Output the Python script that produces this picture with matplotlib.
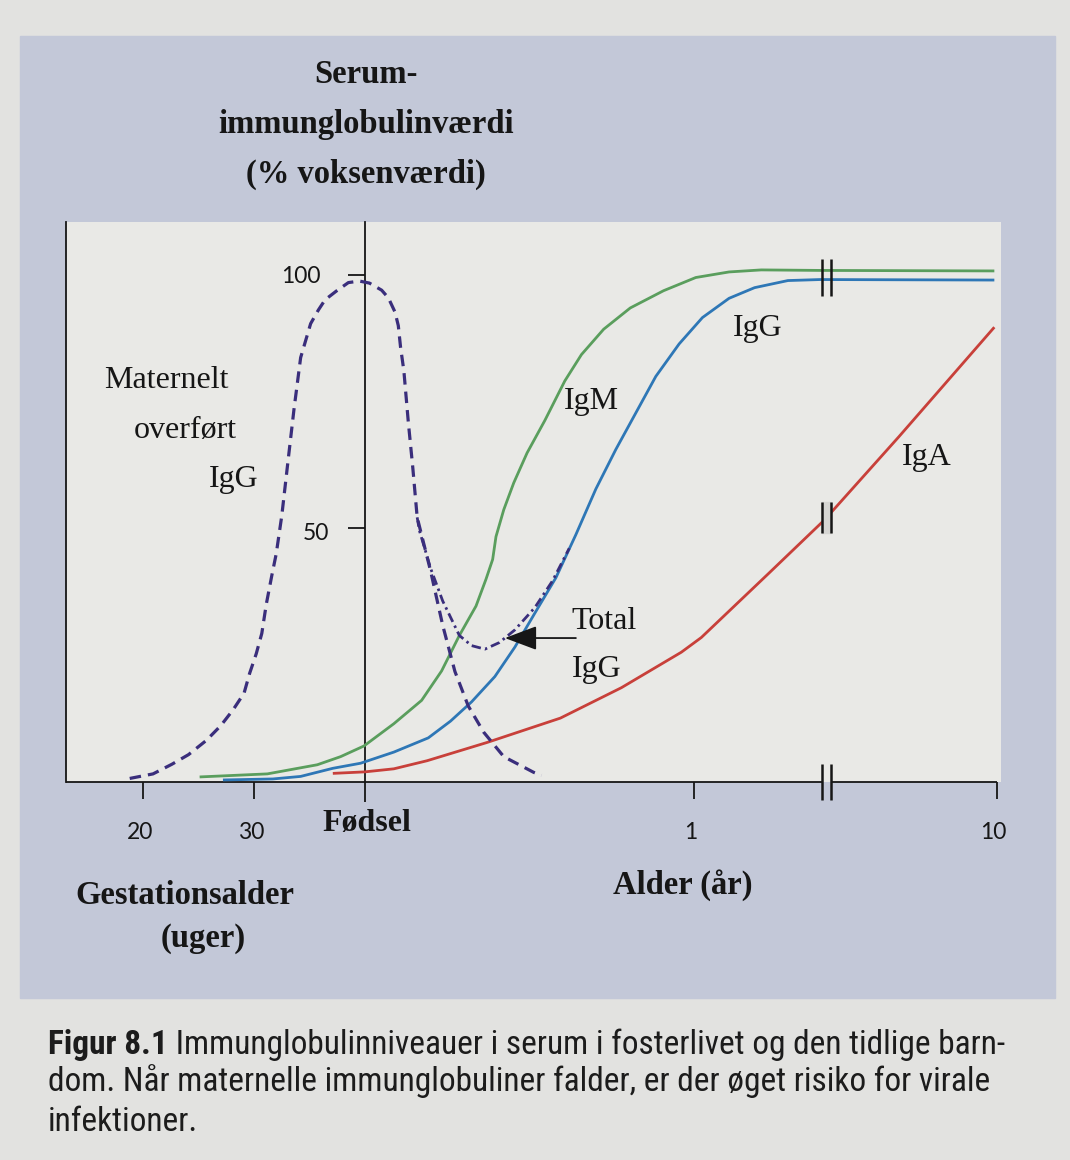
import numpy as np
import matplotlib
matplotlib.use("Agg")
import matplotlib.pyplot as plt
from matplotlib.patches import Rectangle
from matplotlib import font_manager

W, H = 1070, 1160

# --- data (x: position on time axis, y: % of adult value) ---
tick_pos = [20, 30, 40, 69.6, 96.9]
tick_lab = ['20', '30', 'Fødsel', '1', '10']
break_x = 81.6

# maternelt overført IgG (stiplet)
mat_x = [18.8, 20.9, 22.6, 24.1, 25.7, 27.0, 28.1, 29.1, 29.6, 30.2, 30.7, 31.1,
         31.6, 32.0, 32.5, 33.0, 33.6, 34.2, 35.1, 35.8, 36.4, 37.4, 38.5, 39.5,
         40.4, 41.5, 42.1, 42.7, 43.0, 43.2, 43.5, 43.9, 44.3, 44.7, 45.9, 47.0,
         48.1, 49.3, 50.7, 52.5, 55.2, 55.9]
mat_y = [0.7, 1.6, 3.5, 5.4, 8.2, 11.1, 14.2, 17.5, 21.4, 25.3, 29.3, 35.0,
         40.7, 45.0, 52.5, 62.1, 73.5, 83.7, 90.4, 93.1, 95.1, 96.8, 98.5, 98.8,
         98.4, 97.0, 95.5, 92.7, 90.0, 85.8, 81.1, 71.0, 62.1, 52.2, 41.7, 30.9,
         21.8, 15.0, 9.8, 5.0, 1.9, 1.3]

# total IgG (stiplet-prikket)
tot_x = [44.7, 44.9, 45.9, 47.0, 48.5, 49.6, 50.8, 52.1, 53.5, 55.3, 56.9, 58.4]
tot_y = [52.2, 49.6, 42.2, 35.7, 28.9, 26.9, 26.2, 27.5, 30.0, 34.4, 39.7, 46.1]

# IgG (blå)
igg_x = [27.2, 31.7, 34.2, 37.1, 39.6, 42.6, 45.7, 47.7, 49.6, 51.7, 53.5, 55.3,
         57.2, 59.0, 60.8, 62.6, 64.4, 66.2, 68.3, 70.4, 72.8, 75.1, 78.1, 81.0,
         96.7]
igg_y = [0.4, 0.6, 1.1, 2.7, 3.7, 5.9, 8.7, 12.0, 15.8, 20.8, 26.6, 33.3,
         40.3, 48.8, 57.8, 65.6, 72.8, 80.0, 86.4, 91.6, 95.4, 97.5, 98.9, 99.1,
         99.0]

# IgM (grøn)
igm_x = [25.1, 31.2, 34.2, 35.7, 37.8, 39.9, 42.6, 45.1, 46.9, 48.5, 50.0, 50.9,
         51.5, 51.8, 52.5, 53.4, 54.6, 56.2, 58.0, 59.5, 61.5, 63.9, 66.9, 69.8,
         72.8, 75.7, 81.0, 96.7]
igm_y = [1.0, 1.6, 2.8, 3.4, 5.0, 7.1, 11.5, 16.1, 21.9, 28.9, 34.7, 40.0,
         43.9, 48.4, 53.7, 59.0, 64.9, 71.3, 79.1, 84.3, 89.3, 93.5, 96.9, 99.5,
         100.6, 101.0, 100.9, 100.8]

# IgA (rød)
iga_x = [37.1, 40.0, 42.6, 45.6, 51.0, 57.6, 63.1, 68.5, 70.3, 76.3, 81.4, 88.1,
         96.7]
iga_y = [1.7, 2.0, 2.6, 4.2, 7.8, 12.6, 18.6, 25.6, 28.5, 41.0, 51.7, 68.1,
         89.7]

# --- styling ---
PAGE = '#e2e2e0'
PANEL = '#c3c8d8'
PLOTBG = '#e9e9e6'
GREEN = '#5a9e5d'
BLUE = '#2e77b6'
RED = '#c8403a'
PURPLE = '#3a2e7c'
INK = '#161616'

have = {f.name for f in font_manager.fontManager.ttflist}
SERIF = 'Liberation Serif' if 'Liberation Serif' in have else 'DejaVu Serif'
SANS = 'Lato' if 'Lato' in have else 'DejaVu Sans'
CAP = 'Roboto'
for cand in ['Roboto Condensed', 'Liberation Sans Narrow', 'Open Sans Condensed']:
    if cand in have:
        CAP = cand
        break


def fy(py):
    return 1 - py / H


fig = plt.figure(figsize=(W / 100, H / 100), dpi=100)
fig.patch.set_facecolor(PAGE)
fig.add_artist(Rectangle((20 / W, fy(998)), 1035 / W, 962 / H,
                         transform=fig.transFigure, color=PANEL, zorder=-5))

ax = fig.add_axes([66 / W, fy(782), 935 / W, 560 / H])
ax.set_facecolor(PLOTBG)
XMIN, XMAX, YMAX = 13.06, 97.3, 110.45
ax.set_xlim(XMIN, XMAX)
ax.set_ylim(0, YMAX)

# curves
line_kw = dict(lw=2.0, solid_capstyle='butt', solid_joinstyle='round', zorder=3)
ax.plot(igm_x, igm_y, color=GREEN, **line_kw)
ax.plot(igg_x, igg_y, color=BLUE, **line_kw)
ax.plot(iga_x, iga_y, color=RED, **line_kw)
ax.plot(mat_x, mat_y, color=PURPLE, lw=2.3, ls=(0, (3.6, 2.2)), zorder=4)
ax.plot(tot_x, tot_y, color=PURPLE, lw=2.0, ls=(0, (3.4, 1.5, 0.9, 1.5)), zorder=4)

# frame: birth line as y axis, left border line, x axis with break
for s in ['top', 'right', 'bottom']:
    ax.spines[s].set_visible(False)
ax.spines['left'].set_position(('data', 40))
ax.spines['left'].set_linewidth(1.3)
ax.spines['left'].set_color(INK)
ax.axvline(XMIN, color=INK, lw=1.3, clip_on=False)

gap = 0.42
ax.plot([XMIN, break_x - gap], [0, 0], color=INK, lw=1.3, clip_on=False,
        solid_capstyle='butt')
ax.plot([break_x + gap, tick_pos[-1]], [0, 0], color=INK, lw=1.3, clip_on=False,
        solid_capstyle='butt')

ax.set_xticks(tick_pos)
ax.set_xticklabels([])
ax.tick_params(axis='x', direction='out', length=12.5, width=1.3, color=INK)
ax.xaxis.get_major_ticks()[2].tick1line.set_markersize(14.5)
ax.set_yticks([50, 100])
ax.set_yticklabels([])
ax.tick_params(axis='y', direction='out', length=12.2, width=1.3, color=INK)

# break marks
bx = [break_x - gap, break_x + gap]
g_at = np.interp(break_x, igm_x, igm_y)
b_at = np.interp(break_x, igg_x, igg_y)
r_at = np.interp(break_x, iga_x, iga_y)
ax.add_patch(Rectangle((bx[0], r_at - 3.0), 2 * gap, 6.0, color='#d6d6d3',
                       zorder=5))
ax.vlines(bx, min(g_at, b_at) - 3.2, max(g_at, b_at) + 2.2, color=INK, lw=1.8,
          zorder=6)
ax.vlines(bx, r_at - 3.0, r_at + 3.0, color=INK, lw=1.8, zorder=6)
ax.vlines(bx, -3.5, 3.5, color=INK, lw=1.8, zorder=6, clip_on=False)

# arrow to total IgG
tip_x, tail_x = 52.6, 59.0
tip_y = np.interp(tip_x, tot_x, tot_y)
ax.annotate('', xy=(tip_x, tip_y), xytext=(tail_x, tip_y),
            arrowprops=dict(arrowstyle='-|>,head_length=0.8,head_width=0.3',
                            color=INK, lw=1.3, mutation_scale=25,
                            shrinkA=0, shrinkB=0), zorder=6)

# tick labels
for p, lab in zip(tick_pos, tick_lab):
    if lab == 'Fødsel':
        ax.annotate(lab, (p, 0), xytext=(2, -49), textcoords='offset pixels',
                    ha='center', va='baseline', family=SERIF, weight='bold',
                    fontsize=23, color=INK, annotation_clip=False)
    else:
        ax.annotate(lab, (p, 0), xytext=(-3, -57), textcoords='offset pixels',
                    ha='center', va='baseline', family=SANS, fontsize=16.5,
                    color=INK, annotation_clip=False)
ax.annotate('100', (40, 100), xytext=(-44, -8), textcoords='offset pixels',
            ha='right', va='baseline', family=SANS, fontsize=16.5, color=INK)
ax.annotate('50', (40, 50), xytext=(-36, -12), textcoords='offset pixels',
            ha='right', va='baseline', family=SANS, fontsize=16.5, color=INK)

# curve labels
lab_kw = dict(family=SERIF, fontsize=23, color=INK, va='baseline')
ax.text(22.1, 77.7, 'Maternelt', ha='center', **lab_kw)
ax.text(23.8, 67.8, 'overført', ha='center', **lab_kw)
ax.text(28.2, 58.2, 'IgG', ha='center', **lab_kw)
ax.text(60.4, 73.6, 'IgM', ha='center', **lab_kw)
ax.text(75.4, 88.0, 'IgG', ha='center', **lab_kw)
ax.text(90.6, 62.5, 'IgA', ha='center', **lab_kw)
ax.text(58.6, 30.2, 'Total', ha='left', **lab_kw)
ax.text(58.6, 20.7, 'IgG', ha='left', **lab_kw)

# axis titles
bold_kw = dict(family=SERIF, fontsize=23.5, weight='bold', color=INK,
               va='baseline', ha='center')
fig.text(366 / W, fy(83), 'Serum-', **bold_kw)
fig.text(366 / W, fy(133), 'immunglobulinværdi', **bold_kw)
fig.text(366 / W, fy(183), '(% voksenværdi)', **bold_kw)
fig.text(185 / W, fy(904), 'Gestationsalder', **bold_kw)
fig.text(203 / W, fy(947), '(uger)', **bold_kw)
fig.text(683 / W, fy(894), 'Alder (år)', **bold_kw)

# caption, sized so the first line spans the text block width
renderer = fig.canvas.get_renderer()
cap1b = 'Figur 8.1'
cap1 = ' Immunglobulinniveauer i serum i fosterlivet og den tidlige barn-'
cap2 = 'dom. Når maternelle immunglobuliner falder, er der øget risiko for virale'
cap3 = 'infektioner.'


def width_px(s, size, weight='normal'):
    t = fig.text(0, 0, s, fontsize=size, family=CAP, weight=weight)
    w = t.get_window_extent(renderer).width
    t.remove()
    return w


base = 20
total = width_px(cap1b, base, 'bold') + width_px(cap1, base)
csize = base * 957 / total
x0 = 48
tb = fig.text(x0 / W, fy(1054), cap1b, fontsize=csize, family=CAP,
              weight='bold', color='#1c1c1c', va='baseline')
wb = tb.get_window_extent(renderer).width
fig.text((x0 + wb) / W, fy(1054), cap1, fontsize=csize, family=CAP,
         color='#1c1c1c', va='baseline')
fig.text(x0 / W, fy(1091), cap2, fontsize=csize, family=CAP, color='#1c1c1c',
         va='baseline')
fig.text(x0 / W, fy(1131), cap3, fontsize=csize, family=CAP, color='#1c1c1c',
         va='baseline')

fig.savefig('out.png', dpi=100, facecolor=fig.get_facecolor())
